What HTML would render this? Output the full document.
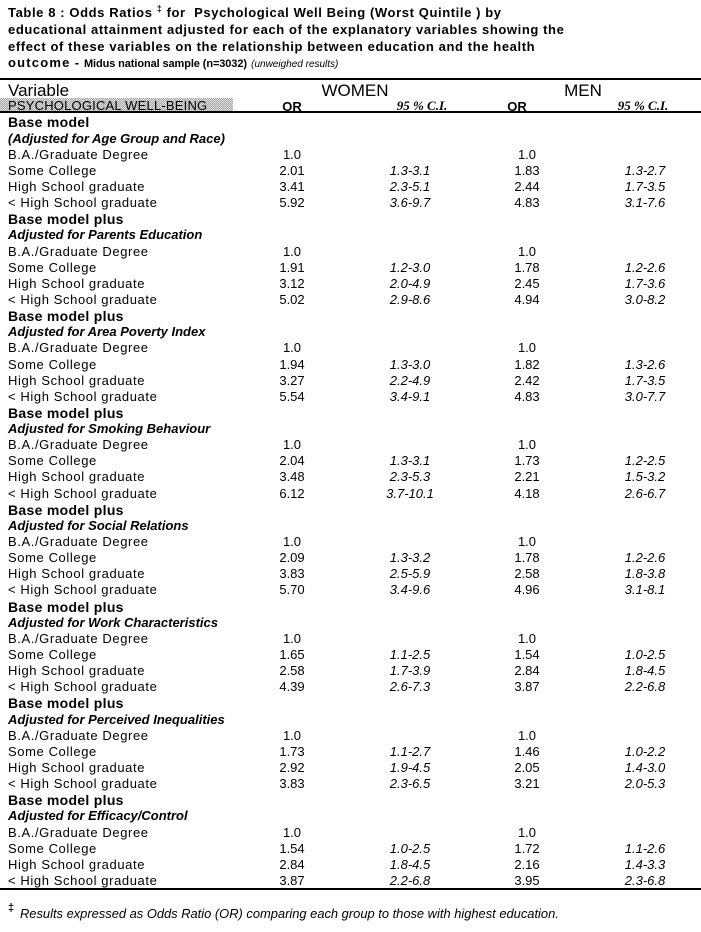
<!DOCTYPE html>
<html>
<head>
<meta charset="utf-8">
<style>
  html,body{margin:0;padding:0;background:#fff;}
  body{width:701px;height:932px;position:relative;overflow:hidden;font-family:"Liberation Sans",Arial,sans-serif;color:#000;}
  .t{position:absolute;left:8px;font-weight:bold;font-size:13px;letter-spacing:0.6px;white-space:nowrap;line-height:16px;}
  .hr{position:absolute;left:0;width:701px;background:#000;}
  .shade{position:absolute;left:0;top:98px;width:233px;height:14px;
    background:repeating-conic-gradient(#a0a0a0 0 25%, #e6e6e6 0 50%) 0 0/2px 2px;}
  .abs{position:absolute;white-space:nowrap;}
  #rows{position:absolute;left:0;top:114.4px;width:701px;}
  .r{position:relative;height:16.15px;line-height:16.15px;font-size:13px;}
  .r span{position:absolute;top:0;white-space:nowrap;}
  .lab{left:8px;letter-spacing:0.6px;}
  .b{font-weight:bold;font-size:14px;letter-spacing:0.3px;}
  .bi{font-weight:bold;font-style:italic;letter-spacing:0;}
  .c1{left:252px;width:80px;text-align:center;}
  .c2{left:370px;width:80px;text-align:center;font-style:italic;}
  .c3{left:487px;width:80px;text-align:center;}
  .c4{left:605px;width:80px;text-align:center;font-style:italic;}
  .ci{font-size:13px;font-weight:bold;font-style:italic;font-family:'Liberation Serif',serif;line-height:16px;width:80px;text-align:center;}
</style>
</head>
<body>
<div class="t" style="top:5px;">Table 8 : Odds Ratios <sup style="font-size:9px;line-height:0;">‡</sup> for&nbsp; Psychological Well Being (Worst Quintile ) by</div>
<div class="t" style="top:22px;">educational attainment adjusted for each of the explanatory variables showing the</div>
<div class="t" style="top:39px;">effect of these variables on the relationship between education and the health</div>
<div class="t" style="top:55px;"><span style="letter-spacing:1.2px;">outcome</span> - <span style="font-size:11px;letter-spacing:-0.1px;">Midus national sample (n=3032)</span> <span style="font-size:10px;font-weight:normal;font-style:italic;letter-spacing:0;">(unweighed results)</span></div>

<div class="hr" style="top:78px;height:2px;"></div>
<div class="abs" style="left:8px;top:81px;font-size:17px;line-height:20px;">Variable</div>
<div class="abs" style="left:305px;width:100px;text-align:center;top:81px;font-size:17px;line-height:20px;">WOMEN</div>
<div class="abs" style="left:533px;width:100px;text-align:center;top:81px;font-size:17px;line-height:20px;">MEN</div>
<div class="shade"></div>
<div class="abs" style="left:8px;top:98px;font-size:13px;line-height:16px;letter-spacing:0.2px;">PSYCHOLOGICAL WELL-BEING</div>
<div class="abs" style="left:252px;width:80px;text-align:center;top:99px;font-size:13px;font-weight:bold;line-height:16px;">OR</div>
<div class="abs ci" style="left:382px;top:98px;">95 % C.I.</div>
<div class="abs" style="left:477px;width:80px;text-align:center;top:99px;font-size:13px;font-weight:bold;line-height:16px;">OR</div>
<div class="abs ci" style="left:603px;top:98px;">95 % C.I.</div>
<div class="hr" style="top:111px;height:2px;"></div>

<div id="rows">
  <div class="r"><span class="lab b">Base model</span></div>
  <div class="r"><span class="lab bi">(Adjusted for Age Group and Race)</span></div>
  <div class="r"><span class="lab">B.A./Graduate Degree</span><span class="c1">1.0</span><span class="c3">1.0</span></div>
  <div class="r"><span class="lab">Some College</span><span class="c1">2.01</span><span class="c2">1.3-3.1</span><span class="c3">1.83</span><span class="c4">1.3-2.7</span></div>
  <div class="r"><span class="lab">High School graduate</span><span class="c1">3.41</span><span class="c2">2.3-5.1</span><span class="c3">2.44</span><span class="c4">1.7-3.5</span></div>
  <div class="r"><span class="lab">&lt; High School graduate</span><span class="c1">5.92</span><span class="c2">3.6-9.7</span><span class="c3">4.83</span><span class="c4">3.1-7.6</span></div>

  <div class="r"><span class="lab b">Base model plus</span></div>
  <div class="r"><span class="lab bi">Adjusted for Parents Education</span></div>
  <div class="r"><span class="lab">B.A./Graduate Degree</span><span class="c1">1.0</span><span class="c3">1.0</span></div>
  <div class="r"><span class="lab">Some College</span><span class="c1">1.91</span><span class="c2">1.2-3.0</span><span class="c3">1.78</span><span class="c4">1.2-2.6</span></div>
  <div class="r"><span class="lab">High School graduate</span><span class="c1">3.12</span><span class="c2">2.0-4.9</span><span class="c3">2.45</span><span class="c4">1.7-3.6</span></div>
  <div class="r"><span class="lab">&lt; High School graduate</span><span class="c1">5.02</span><span class="c2">2.9-8.6</span><span class="c3">4.94</span><span class="c4">3.0-8.2</span></div>

  <div class="r"><span class="lab b">Base model plus</span></div>
  <div class="r"><span class="lab bi">Adjusted for Area Poverty Index</span></div>
  <div class="r"><span class="lab">B.A./Graduate Degree</span><span class="c1">1.0</span><span class="c3">1.0</span></div>
  <div class="r"><span class="lab">Some College</span><span class="c1">1.94</span><span class="c2">1.3-3.0</span><span class="c3">1.82</span><span class="c4">1.3-2.6</span></div>
  <div class="r"><span class="lab">High School graduate</span><span class="c1">3.27</span><span class="c2">2.2-4.9</span><span class="c3">2.42</span><span class="c4">1.7-3.5</span></div>
  <div class="r"><span class="lab">&lt; High School graduate</span><span class="c1">5.54</span><span class="c2">3.4-9.1</span><span class="c3">4.83</span><span class="c4">3.0-7.7</span></div>

  <div class="r"><span class="lab b">Base model plus</span></div>
  <div class="r"><span class="lab bi">Adjusted for Smoking Behaviour</span></div>
  <div class="r"><span class="lab">B.A./Graduate Degree</span><span class="c1">1.0</span><span class="c3">1.0</span></div>
  <div class="r"><span class="lab">Some College</span><span class="c1">2.04</span><span class="c2">1.3-3.1</span><span class="c3">1.73</span><span class="c4">1.2-2.5</span></div>
  <div class="r"><span class="lab">High School graduate</span><span class="c1">3.48</span><span class="c2">2.3-5.3</span><span class="c3">2.21</span><span class="c4">1.5-3.2</span></div>
  <div class="r"><span class="lab">&lt; High School graduate</span><span class="c1">6.12</span><span class="c2">3.7-10.1</span><span class="c3">4.18</span><span class="c4">2.6-6.7</span></div>

  <div class="r"><span class="lab b">Base model plus</span></div>
  <div class="r"><span class="lab bi">Adjusted for Social Relations</span></div>
  <div class="r"><span class="lab">B.A./Graduate Degree</span><span class="c1">1.0</span><span class="c3">1.0</span></div>
  <div class="r"><span class="lab">Some College</span><span class="c1">2.09</span><span class="c2">1.3-3.2</span><span class="c3">1.78</span><span class="c4">1.2-2.6</span></div>
  <div class="r"><span class="lab">High School graduate</span><span class="c1">3.83</span><span class="c2">2.5-5.9</span><span class="c3">2.58</span><span class="c4">1.8-3.8</span></div>
  <div class="r"><span class="lab">&lt; High School graduate</span><span class="c1">5.70</span><span class="c2">3.4-9.6</span><span class="c3">4.96</span><span class="c4">3.1-8.1</span></div>

  <div class="r"><span class="lab b">Base model plus</span></div>
  <div class="r"><span class="lab bi">Adjusted for Work Characteristics</span></div>
  <div class="r"><span class="lab">B.A./Graduate Degree</span><span class="c1">1.0</span><span class="c3">1.0</span></div>
  <div class="r"><span class="lab">Some College</span><span class="c1">1.65</span><span class="c2">1.1-2.5</span><span class="c3">1.54</span><span class="c4">1.0-2.5</span></div>
  <div class="r"><span class="lab">High School graduate</span><span class="c1">2.58</span><span class="c2">1.7-3.9</span><span class="c3">2.84</span><span class="c4">1.8-4.5</span></div>
  <div class="r"><span class="lab">&lt; High School graduate</span><span class="c1">4.39</span><span class="c2">2.6-7.3</span><span class="c3">3.87</span><span class="c4">2.2-6.8</span></div>

  <div class="r"><span class="lab b">Base model plus</span></div>
  <div class="r"><span class="lab bi">Adjusted for Perceived Inequalities</span></div>
  <div class="r"><span class="lab">B.A./Graduate Degree</span><span class="c1">1.0</span><span class="c3">1.0</span></div>
  <div class="r"><span class="lab">Some College</span><span class="c1">1.73</span><span class="c2">1.1-2.7</span><span class="c3">1.46</span><span class="c4">1.0-2.2</span></div>
  <div class="r"><span class="lab">High School graduate</span><span class="c1">2.92</span><span class="c2">1.9-4.5</span><span class="c3">2.05</span><span class="c4">1.4-3.0</span></div>
  <div class="r"><span class="lab">&lt; High School graduate</span><span class="c1">3.83</span><span class="c2">2.3-6.5</span><span class="c3">3.21</span><span class="c4">2.0-5.3</span></div>

  <div class="r"><span class="lab b">Base model plus</span></div>
  <div class="r"><span class="lab bi">Adjusted for Efficacy/Control</span></div>
  <div class="r"><span class="lab">B.A./Graduate Degree</span><span class="c1">1.0</span><span class="c3">1.0</span></div>
  <div class="r"><span class="lab">Some College</span><span class="c1">1.54</span><span class="c2">1.0-2.5</span><span class="c3">1.72</span><span class="c4">1.1-2.6</span></div>
  <div class="r"><span class="lab">High School graduate</span><span class="c1">2.84</span><span class="c2">1.8-4.5</span><span class="c3">2.16</span><span class="c4">1.4-3.3</span></div>
  <div class="r"><span class="lab">&lt; High School graduate</span><span class="c1">3.87</span><span class="c2">2.2-6.8</span><span class="c3">3.95</span><span class="c4">2.3-6.8</span></div>
</div>

<div class="hr" style="top:888px;height:2px;"></div>
<div class="abs" style="left:8px;top:901px;font-size:11px;font-weight:bold;line-height:14px;">‡</div>
<div class="abs" style="left:20px;top:906px;font-size:12.9px;font-style:italic;line-height:16px;">Results expressed as Odds Ratio (OR) comparing each group to those with highest education.</div>
</body>
</html>
